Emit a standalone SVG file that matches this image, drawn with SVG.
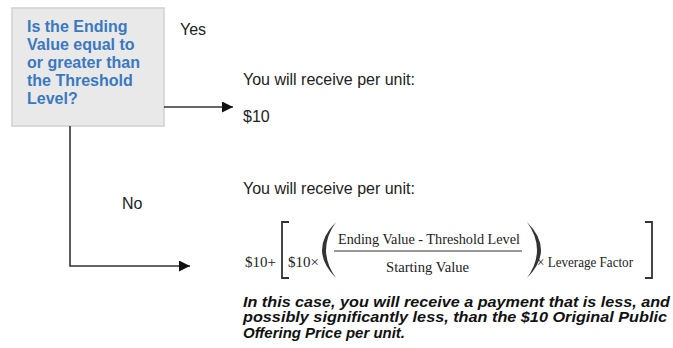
<svg xmlns="http://www.w3.org/2000/svg" width="673" height="348" viewBox="0 0 673 348">
<defs>
<style>
.q{font-family:"Liberation Sans",Arial,sans-serif;font-size:16px;font-weight:bold;fill:#3a78c0}
.t{font-family:"Liberation Sans",Arial,sans-serif;font-size:16px;fill:#222}
.f{font-family:"Liberation Serif","Times New Roman",serif;font-size:15.5px;fill:#222}
.n{font-family:"Liberation Sans",Arial,sans-serif;font-size:15px;font-weight:bold;font-style:italic;fill:#111}
.c{fill:none;stroke:#333;stroke-width:1.6}
.b{fill:none;stroke:#333;stroke-width:1.8}
.p{fill:#333;stroke:none}
</style>
<marker id="ah" viewBox="0 0 10 10" refX="10" refY="5" markerWidth="11" markerHeight="11" markerUnits="userSpaceOnUse" orient="auto">
<path d="M0,0 L10,5 L0,10 z" fill="#111"/>
</marker>
</defs>
<rect width="673" height="348" fill="#fff"/>
<g id="decision">
<rect x="12" y="8" width="152" height="118" fill="#e9e9e9" stroke="#cfcfcf" stroke-width="1.5"/>
<text class="q" x="27" y="32">Is the Ending</text>
<text class="q" x="27" y="50">Value equal to</text>
<text class="q" x="27" y="68">or greater than</text>
<text class="q" x="27" y="86">the Threshold</text>
<text class="q" x="27" y="104">Level?</text>
</g>
<g id="connectors">
<path class="c" d="M164,107 L233,107" marker-end="url(#ah)"/>
<path class="c" d="M70,126 L70,266 L190,266" marker-end="url(#ah)"/>
<text class="t" x="180" y="35">Yes</text>
<text class="t" x="122" y="209">No</text>
</g>
<g id="yes-result">
<text class="t" x="243" y="85">You will receive per unit:</text>
<text class="t" x="243" y="122">$10</text>
</g>
<g id="no-result">
<text class="t" x="243" y="194">You will receive per unit:</text>
<text class="f" x="245" y="267" style="font-size:15px">$10+</text>
<path class="b" d="M289,222 L282,222 L282,278 L289,278"/>
<text class="f" x="288" y="267" style="font-size:15px">$10×</text>
<path class="p" d="M336,222 Q322,236 322,250 Q322,264 336,278 Q326,264 326,250 Q326,236 336,222 z"/>
<text class="f" x="338" y="244" textLength="182" lengthAdjust="spacingAndGlyphs">Ending Value - Threshold Level</text>
<line x1="334" y1="251" x2="522" y2="251" stroke="#333" stroke-width="1.2"/>
<text class="f" x="386" y="272" textLength="83" lengthAdjust="spacingAndGlyphs">Starting Value</text>
<path class="p" d="M527,222 Q541,236 541,250 Q541,264 527,278 Q537,264 537,250 Q537,236 527,222 z"/>
<text class="f" x="537" y="267" textLength="96" lengthAdjust="spacingAndGlyphs">× Leverage Factor</text>
<path class="b" d="M645,222 L652,222 L652,278 L645,278"/>
<text class="n" x="243" y="306.5" textLength="427" lengthAdjust="spacingAndGlyphs">In this case, you will receive a payment that is less, and</text>
<text class="n" x="243" y="322" textLength="424" lengthAdjust="spacingAndGlyphs">possibly significantly less, than the $10 Original Public</text>
<text class="n" x="243" y="337.5" textLength="162" lengthAdjust="spacingAndGlyphs">Offering Price per unit.</text>
</g>
</svg>
